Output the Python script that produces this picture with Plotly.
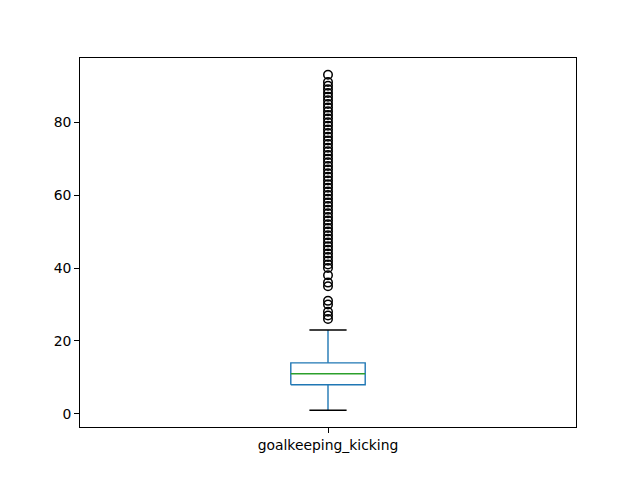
import plotly.graph_objects as go

category = "goalkeeping_kicking"
q1 = 8
median = 11
q3 = 14
whisker_low = 1
whisker_high = 23
outliers = [26, 27, 28, 30, 31, 35, 36, 38] + list(range(40, 92)) + [93]

pos = 1.0
box_half = 0.075
cap_half = 0.0375

blue = "#1f77b4"
green = "#2ca02c"
fig = go.Figure()

# box
fig.add_trace(go.Scatter(
    x=[pos - box_half, pos + box_half, pos + box_half, pos - box_half, pos - box_half],
    y=[q1, q1, q3, q3, q1], mode="lines", line=dict(color=blue, width=1.4),
    hoverinfo="skip", showlegend=False))
# whiskers
fig.add_trace(go.Scatter(x=[pos, pos], y=[q1, whisker_low], mode="lines",
                         line=dict(color=blue, width=1.4), showlegend=False))
fig.add_trace(go.Scatter(x=[pos, pos], y=[q3, whisker_high], mode="lines",
                         line=dict(color=blue, width=1.4), showlegend=False))
# caps
for w in (whisker_low, whisker_high):
    fig.add_trace(go.Scatter(x=[pos - cap_half, pos + cap_half], y=[w, w], mode="lines",
                             line=dict(color="black", width=1.4), showlegend=False))
# median
fig.add_trace(go.Scatter(x=[pos - box_half, pos + box_half], y=[median, median], mode="lines",
                         line=dict(color=green, width=1.4), showlegend=False))
# outliers
fig.add_trace(go.Scatter(x=[pos] * len(outliers), y=outliers, mode="markers",
                         marker=dict(symbol="circle-open", size=8.5, color="black",
                                     line=dict(width=1.5, color="black")),
                         showlegend=False))

axis_font = dict(family="DejaVu Sans", size=13.9, color="black")
fig.update_layout(
    width=640, height=480,
    margin=dict(l=80, r=64, t=58, b=53),
    paper_bgcolor="white", plot_bgcolor="white",
    font=axis_font,
    xaxis=dict(range=[0.5, 1.5], tickvals=[pos], ticktext=[category],
               showline=True, mirror=True, linecolor="black", linewidth=1,
               ticks="outside", ticklen=4.9, tickcolor="black", showgrid=False,
               zeroline=False, tickfont=axis_font),
    yaxis=dict(range=[-3.6, 97.6], tickvals=[0, 20, 40, 60, 80],
               showline=True, mirror=True, linecolor="black", linewidth=1,
               ticks="outside", ticklen=4.9, tickcolor="black", showgrid=False,
               zeroline=False, tickfont=axis_font),
)
fig.write_html("out.html")
